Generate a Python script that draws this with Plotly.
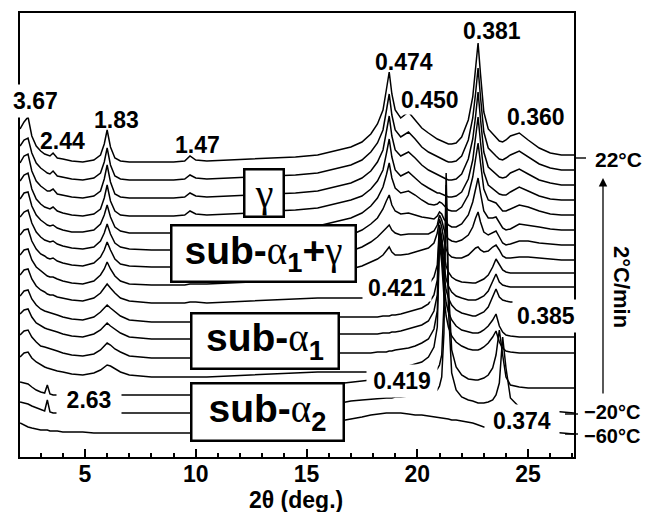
import plotly.graph_objects as go

# 2-theta sampling grid (deg.)
two_theta = [2.07, 2.25, 2.43, 2.6, 2.8, 3.0, 3.18, 3.3, 3.42, 3.56, 3.75, 4.0, 4.4, 4.9, 5.4, 5.7, 5.87, 6.0, 6.15, 6.35,
             6.6, 7.0, 8.0, 9.0, 9.5, 9.74, 10.0, 10.5, 11.5, 12.5, 13.5,
             14.5, 15.5, 16.3, 17.0, 17.5, 17.9, 18.2, 18.45, 18.6, 18.73, 18.85, 19.0, 19.25, 19.6, 19.9, 20.2, 20.5,
             20.75, 20.9, 21.0, 21.1, 21.2, 21.3, 21.4, 21.55, 21.75, 22.0, 22.3, 22.5, 22.63, 22.74, 22.85, 23.0, 23.2,
             23.4, 23.55, 23.7, 23.85, 24.0, 24.2, 24.6, 25.0, 25.5, 26.0, 26.5, 27.07]

# temperatures of the stacked patterns (top to bottom)
temperatures = ["22", "19", "16", "13", "10", "7", "4", "1", "-2", "-5", "-8", "-11", "-14", "-17", "-20", "-60"]
# vertical offsets of each pattern (stacking)
offsets = [295, 277, 259, 241, 224, 207, 190, 172, 154, 135, 118, 99, 80, 62, 44, 24]

# intensities (arb. units)
i_22 = [33, 40, 45, 26, 16, 11, 8, 7, 6, 9, 4, 3, 1, 0, 2, 7, 18, 32, 15, 4, 1, 0, 0, 0, 1, 6, 2, 1, 2, 3, 4] + \
       [5, 7, 11, 15, 20, 28, 38, 52, 72, 90, 68, 52, 44, 50, 42, 34, 29, 25, 23, 22, 21, 20, 19, 18, 18, 19, 25, 42, 65, 92, 119, 88, 50, 33, 28, 24, 21, 20, 22, 26, 29, 22, 14, 9, 7, 7]
i_19 = [34, 40, 42, 27, 17, 12, 9, 7, 6, 9, 4, 3, 1, 0, 2, 7, 18, 32, 15, 4, 1, 0, 0, 0, 1, 5, 2, 1, 2, 3, 4] + \
       [5, 7, 11, 15, 20, 28, 37, 50, 69, 86, 65, 50, 43, 48, 41, 33, 28, 25, 23, 22, 21, 20, 19, 18, 18, 19, 24, 40, 62, 87, 112, 83, 48, 32, 27, 24, 21, 20, 22, 25, 29, 23, 16, 12, 10, 10]
i_16 = [35, 42, 44, 27, 17, 12, 9, 7, 7, 9, 4, 3, 1, 0, 2, 7, 19, 33, 16, 4, 1, 0, 0, 0, 1, 5, 2, 1, 2, 3, 4] + \
       [5, 7, 11, 15, 20, 27, 36, 48, 66, 82, 62, 48, 42, 46, 40, 33, 28, 25, 23, 22, 21, 20, 19, 18, 18, 19, 24, 39, 59, 82, 106, 79, 46, 31, 27, 23, 21, 20, 21, 25, 29, 24, 18, 15, 13, 13]
i_13 = [35, 41, 43, 27, 17, 12, 9, 8, 7, 9, 5, 3, 1, 0, 2, 7, 18, 31, 15, 5, 1, 0, 0, 0, 1, 5, 2, 1, 2, 3, 5] + \
       [6, 8, 12, 16, 20, 27, 35, 46, 62, 77, 59, 46, 40, 44, 38, 32, 28, 25, 23, 23, 22, 21, 20, 19, 19, 20, 24, 37, 56, 77, 99, 74, 44, 31, 27, 24, 22, 21, 21, 24, 29, 25, 20, 17, 16, 16]
i_10 = [34, 40, 41, 27, 18, 13, 10, 8, 7, 8, 5, 3, 1, 1, 3, 9, 18, 28, 16, 6, 2, 0, 0, 0, 1, 4, 2, 1, 2, 3, 5] + \
       [5, 7, 11, 15, 20, 27, 35, 46, 58, 70, 55, 45, 40, 42, 38, 33, 29, 28, 29, 31, 30, 28, 25, 23, 22, 22, 26, 38, 56, 75, 90, 70, 44, 33, 31, 30, 26, 22, 22, 24, 28, 26, 22, 19, 18, 18]
i_7 = [33, 38, 40, 27, 18, 13, 10, 9, 8, 9, 6, 4, 2, 1, 3, 9, 17, 26, 16, 7, 3, 1, 0, 0, 1, 3, 1, 1, 2, 3, 5] + \
      [5, 8, 12, 15, 20, 26, 32, 41, 49, 55, 45, 39, 36, 37, 35, 33, 32, 31, 34, 38, 36, 31, 28, 25, 23, 23, 26, 35, 48, 62, 72, 57, 39, 32, 32, 33, 28, 22, 20, 21, 26, 25, 23, 21, 20, 20]
i_4 = [32, 37, 38, 26, 18, 13, 11, 9, 8, 9, 6, 4, 2, 1, 4, 10, 17, 25, 17, 8, 3, 1, 0, 0, 0, 2, 1, 1, 2, 3, 5] + \
      [5, 8, 12, 16, 20, 25, 30, 35, 39, 42, 37, 34, 32, 33, 33, 33, 33, 36, 42, 52, 47, 38, 31, 28, 26, 25, 27, 32, 40, 49, 55, 45, 35, 32, 34, 36, 30, 24, 22, 23, 26, 26, 24, 23, 22, 22]
i_1 = [30, 35, 36, 25, 18, 14, 11, 9, 8, 8, 6, 4, 2, 1, 4, 10, 16, 23, 16, 9, 4, 1, 0, 0, 0, 1, 1, 1, 2, 3, 5] + \
      [5, 8, 12, 16, 19, 23, 26, 30, 34, 38, 33, 30, 30, 31, 33, 35, 37, 42, 52, 66, 58, 45, 36, 31, 28, 27, 27, 30, 34, 37, 38, 35, 33, 34, 38, 40, 35, 29, 27, 27, 28, 28, 27, 26, 25, 25]
i_m2 = [28, 33, 34, 24, 17, 13, 11, 9, 8, 8, 6, 5, 3, 2, 5, 10, 15, 19, 15, 10, 5, 2, 0, 0, 0, 1, 1, 0, 1, 2, 3] + \
       [4, 5, 5, 5, 5, 5, 5, 6, 6, 6, 7, 7, 8, 10, 12, 14, 18, 26, 38, 78, 66, 48, 37, 31, 26, 23, 21, 20, 20, 20, 21, 22, 24, 28, 36, 44, 38, 33, 31, 30, 30, 30, 30, 30, 30, 30]
i_m5 = [26, 31, 32, 23, 17, 13, 11, 10, 9, 8, 7, 5, 3, 2, 5, 10, 14, 17, 14, 10, 6, 2, 0, 0, 0, 0, 0, 0, 1, 2, 3] + \
       [4, 5, 5, 5, 5, 5, 5, 6, 6, 6, 7, 7, 8, 10, 12, 14, 18, 27, 42, 95, 81, 57, 43, 36, 30, 26, 24, 22, 22, 22, 23, 24, 26, 31, 40, 48, 40, 37, 36, 35, 35, 35, 35, 35, 35, 35]
i_m8 = [25, 29, 30, 22, 16, 13, 11, 10, 9, 8, 7, 5, 3, 2, 5, 9, 13, 16, 13, 10, 6, 2, 0, 0, 0, 0, 0, 0, 1, 2, 3] + \
       [4, 5, 5, 5, 5, 5, 5, 6, 6, 6, 7, 7, 8, 10, 12, 14, 18, 28, 44, 108, 92, 65, 49, 41, 34, 29, 26, 24, 23, 23, 24, 25, 27, 32, 42, 50, 42, 39, 38, 37, 37, 37, 37, 37, 37, 37]
i_m11 = [23, 27, 28, 21, 16, 12, 11, 10, 9, 8, 7, 5, 3, 2, 4, 8, 12, 15, 13, 9, 6, 2, 0, 0, 0, 0, 0, 0, 1, 2, 3] + \
        [4, 5, 5, 5, 5, 5, 6, 6, 6, 7, 7, 8, 9, 10, 12, 15, 19, 29, 47, 122, 104, 74, 55, 46, 38, 32, 28, 26, 25, 25, 25, 26, 28, 32, 38, 44, 32, 26, 23, 22, 21, 21, 21, 21, 21, 21]
i_m14 = [20, 24, 25, 19, 15, 12, 10, 9, 8, 7, 6, 5, 3, 2, 4, 7, 10, 12, 11, 8, 5, 2, 0, 0, 0, 0, 0, 0, 1, 2, 3] + \
        [4, 5, 5, 5, 5, 5, 6, 6, 6, 7, 7, 8, 9, 11, 13, 15, 20, 30, 50, 135, 114, 81, 61, 50, 41, 35, 31, 28, 27, 27, 27, 28, 30, 34, 40, 46, 35, 29, 26, 25, 24, 24, 24, 24, 24, 24]
i_m17 = [13, 12, 11, 8, 5, 3, 2, 10, 1, 0, 0, 0, 0, 0, 0, 0, 0, 0, 0, 0, 0, 0, 0, 0, 0, 0, 0, 0, 1, 2, 3] + \
        [3, 5, 11, 13, 14, 15, 15, 16, 16, 16, 17, 17, 18, 18, 19, 20, 21, 23, 26, 30, 40, 90, 222, 110, 45, 28, 20, 16, 15, 15, 15, 16, 17, 20, 27, 40, 65, 40, 18, 10, 8, 7, 7, 7, 7, 7]
i_m20 = [11, 10, 9, 7, 5, 3, 2, 13, 1, 0, 0, 0, 0, 0, 0, 0, 0, 0, 0, 0, 0, 0, 0, 0, 0, 0, 0, 0, 1, 2, 3] + \
        [3, 5, 9, 12, 13, 14, 14, 15, 15, 15, 15, 16, 16, 17, 17, 18, 19, 20, 23, 27, 36, 80, 228, 105, 40, 23, 16, 13, 12, 11, 10, 10, 10, 11, 13, 18, 30, 76, 45, 15, 6, 4, 3, 2, 1, 0]
i_m60 = [10, 8, 6, 5, 4, 3, 3, 3, 2, 2, 2, 1, 1, 1, 0, 0, 0, 0, 0, 0, 0, 0, 0, 0, 0, 0, 0, 0, 1, 2, 4] + \
        [5, 8, 11, 14, 16, 18, 19, 20, 20, 20, 20, 20, 20, 19, 18, 18, 17, 16, 16, 15, 15, 15, 14, 14, 13, 13, 12, 11, 10, 9, 8, 7, 6, 6, 5, 5, 4, 4, 4, 3, 3, 2, 2, 1, 0, -1]

patterns = [i_22, i_19, i_16, i_13, i_10, i_7, i_4, i_1, i_m2, i_m5, i_m8, i_m11, i_m14, i_m17, i_m20, i_m60]

x_ticks = [5, 10, 15, 20, 25]

# ---------------- figure geometry (pixels) ----------------
W, H = 649, 512
L, R, T, B = 20, 75, 13, 55
PW, PH = W - L - R, H - T - B


def px(xp):
    return (xp - L) / PW


def py(yp):
    return (H - B - yp) / PH


FONT = "Liberation Sans, Arial, sans-serif"

fig = go.Figure()
for name, off, inten in zip(temperatures, offsets, patterns):
    fig.add_trace(go.Scatter(
        x=two_theta, y=[off + v for v in inten], mode="lines",
        line=dict(color="black", width=1.5), name=name + "°C",
        showlegend=False, hoverinfo="skip"))

anns = []


def label(text, xp, yp, size=23, bg=None, w=None, h=None, pad=1):
    d = dict(text="<b>" + text + "</b>", x=px(xp), y=py(yp), xref="paper", yref="paper",
             xanchor="center", yanchor="middle", showarrow=False,
             font=dict(family=FONT, size=size, color="black"), borderpad=pad)
    if bg:
        d["bgcolor"] = bg
    if w:
        d["width"] = w
    if h:
        d["height"] = h
    anns.append(d)


label("3.67", 35, 101, bg="white", h=30)
label("2.44", 62, 141)
label("1.83", 116, 120)
label("1.47", 197, 145)
label("0.474", 404, 62)
label("0.450", 430, 100, bg="white")
label("0.381", 492, 31)
label("0.360", 536, 117)
label("0.421", 397, 288, bg="white", w=66, h=24)
label("0.385", 546, 316, bg="white", w=64, h=30)
label("0.419", 402, 381, bg="white", w=68, h=30)
label("0.374", 522, 421, bg="white", w=72, h=30)
label("2.63", 89, 400, bg="white", w=62, h=30)
label("22°C", 618, 160, size=21)
label("−20°C", 612, 411.5, size=20, pad=0)
label("−60°C", 612, 436, size=20, pad=0)

# phase boxes
a = "<span style='font-family:Liberation Serif;font-weight:normal'>α</span>"
g = "<span style='font-family:Liberation Serif;font-weight:normal'>γ</span>"
boxes = [
    (g, 264, 193, 37, 45, 40),
    ("<b>sub-</b>" + a + "<b><sub>1</sub></b><b>+</b>" + g, 263.5, 253.5, 182, 54, 39),
    ("<b>sub-</b>" + a + "<b><sub>1</sub></b>", 265, 341, 145, 53, 39),
    ("<b>sub-</b>" + a + "<b><sub>2</sub></b>", 267.5, 412, 150, 55, 39),
]
for txt, xp, yp, w, h, s in boxes:
    anns.append(dict(text=txt, x=px(xp), y=py(yp), xref="paper", yref="paper",
                     xanchor="center", yanchor="middle", showarrow=False, width=w, height=h,
                     bgcolor="white", bordercolor="black", borderwidth=2.5, borderpad=0,
                     font=dict(family=FONT, size=s, color="black")))

# heating-rate arrow and label
anns.append(dict(x=px(603), y=py(178), ax=0, ay=217, xref="paper", yref="paper",
                 axref="pixel", ayref="pixel", text="", showarrow=True, arrowhead=2,
                 arrowsize=1.3, arrowwidth=1.3, arrowcolor="black"))
anns.append(dict(text="<b>2°C/min</b>", x=px(622), y=py(287), xref="paper", yref="paper",
                 xanchor="center", yanchor="middle",
                 showarrow=False, textangle=90, font=dict(family=FONT, size=22, color="black")))
# x-axis title
anns.append(dict(text="<b>2θ (deg.)</b>", x=px(296), y=py(500), xref="paper", yref="paper",
                 xanchor="center", yanchor="middle",
                 showarrow=False, font=dict(family=FONT, size=23, color="black")))

shapes = []
for x0, x1, yy in [(575, 586, 158), (565, 578, 414), (565, 578, 434)]:
    shapes.append(dict(type="line", xref="paper", yref="paper", x0=px(x0), x1=px(x1),
                       y0=py(yy), y1=py(yy), line=dict(color="black", width=1.4)))

fig.update_layout(
    width=W, height=H, margin=dict(l=L, r=R, t=T, b=B),
    paper_bgcolor="white", plot_bgcolor="white",
    annotations=anns, shapes=shapes, showlegend=False,
    font=dict(family=FONT, color="black"),
    xaxis=dict(range=[2.067, 27.07], tickvals=x_ticks, ticktext=["<b>%d</b>" % v for v in x_ticks],
               ticks="inside", ticklen=8, tickwidth=2, tickcolor="black", ticklabelstandoff=-5,
               minor=dict(ticks="inside", ticklen=4, tickwidth=1.5, dtick=1, tick0=0, tickcolor="black"),
               showline=True, mirror=True, linewidth=2.2, linecolor="black",
               showgrid=False, zeroline=False, tickfont=dict(family=FONT, size=23, color="black")),
    yaxis=dict(range=[0, 444], showticklabels=False, ticks="", showline=True, mirror=True,
               linewidth=2.2, linecolor="black", showgrid=False, zeroline=False),
)

fig.write_html("out.html")
